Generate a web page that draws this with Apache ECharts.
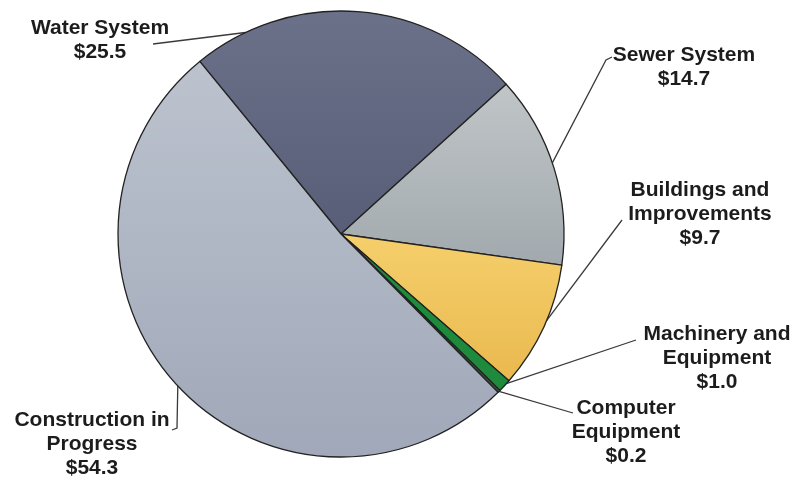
<!DOCTYPE html>
<html><head><meta charset="utf-8">
<script src="https://cdn.jsdelivr.net/npm/echarts@6/dist/echarts.min.js"></script>
<style>html,body{margin:0;padding:0;background:#fff}#c{width:794px;height:480px}</style>
</head><body><div id="c"></div>
<script>
const categories = ['Water System', 'Sewer System', 'Buildings and\nImprovements', 'Machinery and\nEquipment', 'Computer\nEquipment', 'Construction in\nProgress'];
const values = [25.5, 14.7, 9.7, 1.0, 0.2, 54.3];
const valueLabels = ['$25.5', '$14.7', '$9.7', '$1.0', '$0.2', '$54.3'];

// layout / style config (not data)
const CX = 341, CY = 234, R = 223, START = 129.3;
const labelPos = [
  {x: 100, y: 16, anchor: 0.16, line: [[153, 44]]},
  {x: 684, y: 43, anchor: 0.47, line: [[606, 60], [612, 57]]},
  {x: 700, y: 178, anchor: 0.45, line: [[622, 220]]},
  {x: 717, y: 322, anchor: 0.3, line: [[636, 340]]},
  {x: 626, y: 396, anchor: 0.5, line: [[573, 413]]},
  {x: 92, y: 408, anchor: 0.495, line: [[177, 428], [172, 430]]}
];
function lg(c1, c2) {
  return {type: 'linear', x: 0, y: 0, x2: 0, y2: 1, colorStops: [{offset: 0, color: c1}, {offset: 1, color: c2}]};
}
const colors = [
  lg('#6b7189', '#585e77'),
  lg('#c0c6c7', '#a2a9ae'),
  lg('#f5cf6c', '#eab94f'),
  '#1e8a3c',
  '#3b5e44',
  lg('#bcc3ce', '#a0a8b9')
];

const total = values.reduce((a, b) => a + b, 0);
const startAngles = [];
let acc = START;
values.forEach(v => { startAngles.push(acc); acc -= v / total * 360; });

const chart = echarts.init(document.getElementById('c'));
chart.setOption({
  animation: false,
  series: [{
    type: 'pie',
    center: [CX, CY],
    radius: R,
    startAngle: START,
    clockwise: true,
    avoidLabelOverlap: false,
    data: categories.map((c, i) => ({name: c, value: values[i], itemStyle: {color: colors[i]}})),
    itemStyle: {borderColor: '#222', borderWidth: 1.3},
    label: {
      show: true,
      position: 'outside',
      formatter: p => p.name + '\n' + valueLabels[p.dataIndex],
      fontFamily: 'Liberation Sans, Arial, sans-serif',
      fontWeight: 'bold',
      fontSize: 21,
      lineHeight: 24,
      color: '#1c1c1c',
      align: 'center'
    },
    labelLine: {show: true, length: 10, length2: 10, lineStyle: {color: '#3a3a3a', width: 1.3}},
    labelLayout: function (params) {
      const i = params.dataIndex;
      const lp = labelPos[i];
      const span = values[i] / total * 360;
      const ang = (startAngles[i] - lp.anchor * span) * Math.PI / 180;
      const a = [CX + R * Math.cos(ang), CY - R * Math.sin(ang)];
      return {
        x: lp.x, y: lp.y, align: 'center', verticalAlign: 'top',
        labelLinePoints: [a].concat(lp.line.length === 1 ? [lp.line[0], lp.line[0]] : lp.line)
      };
    },
    emphasis: {disabled: true}
  }]
});
</script></body></html>
